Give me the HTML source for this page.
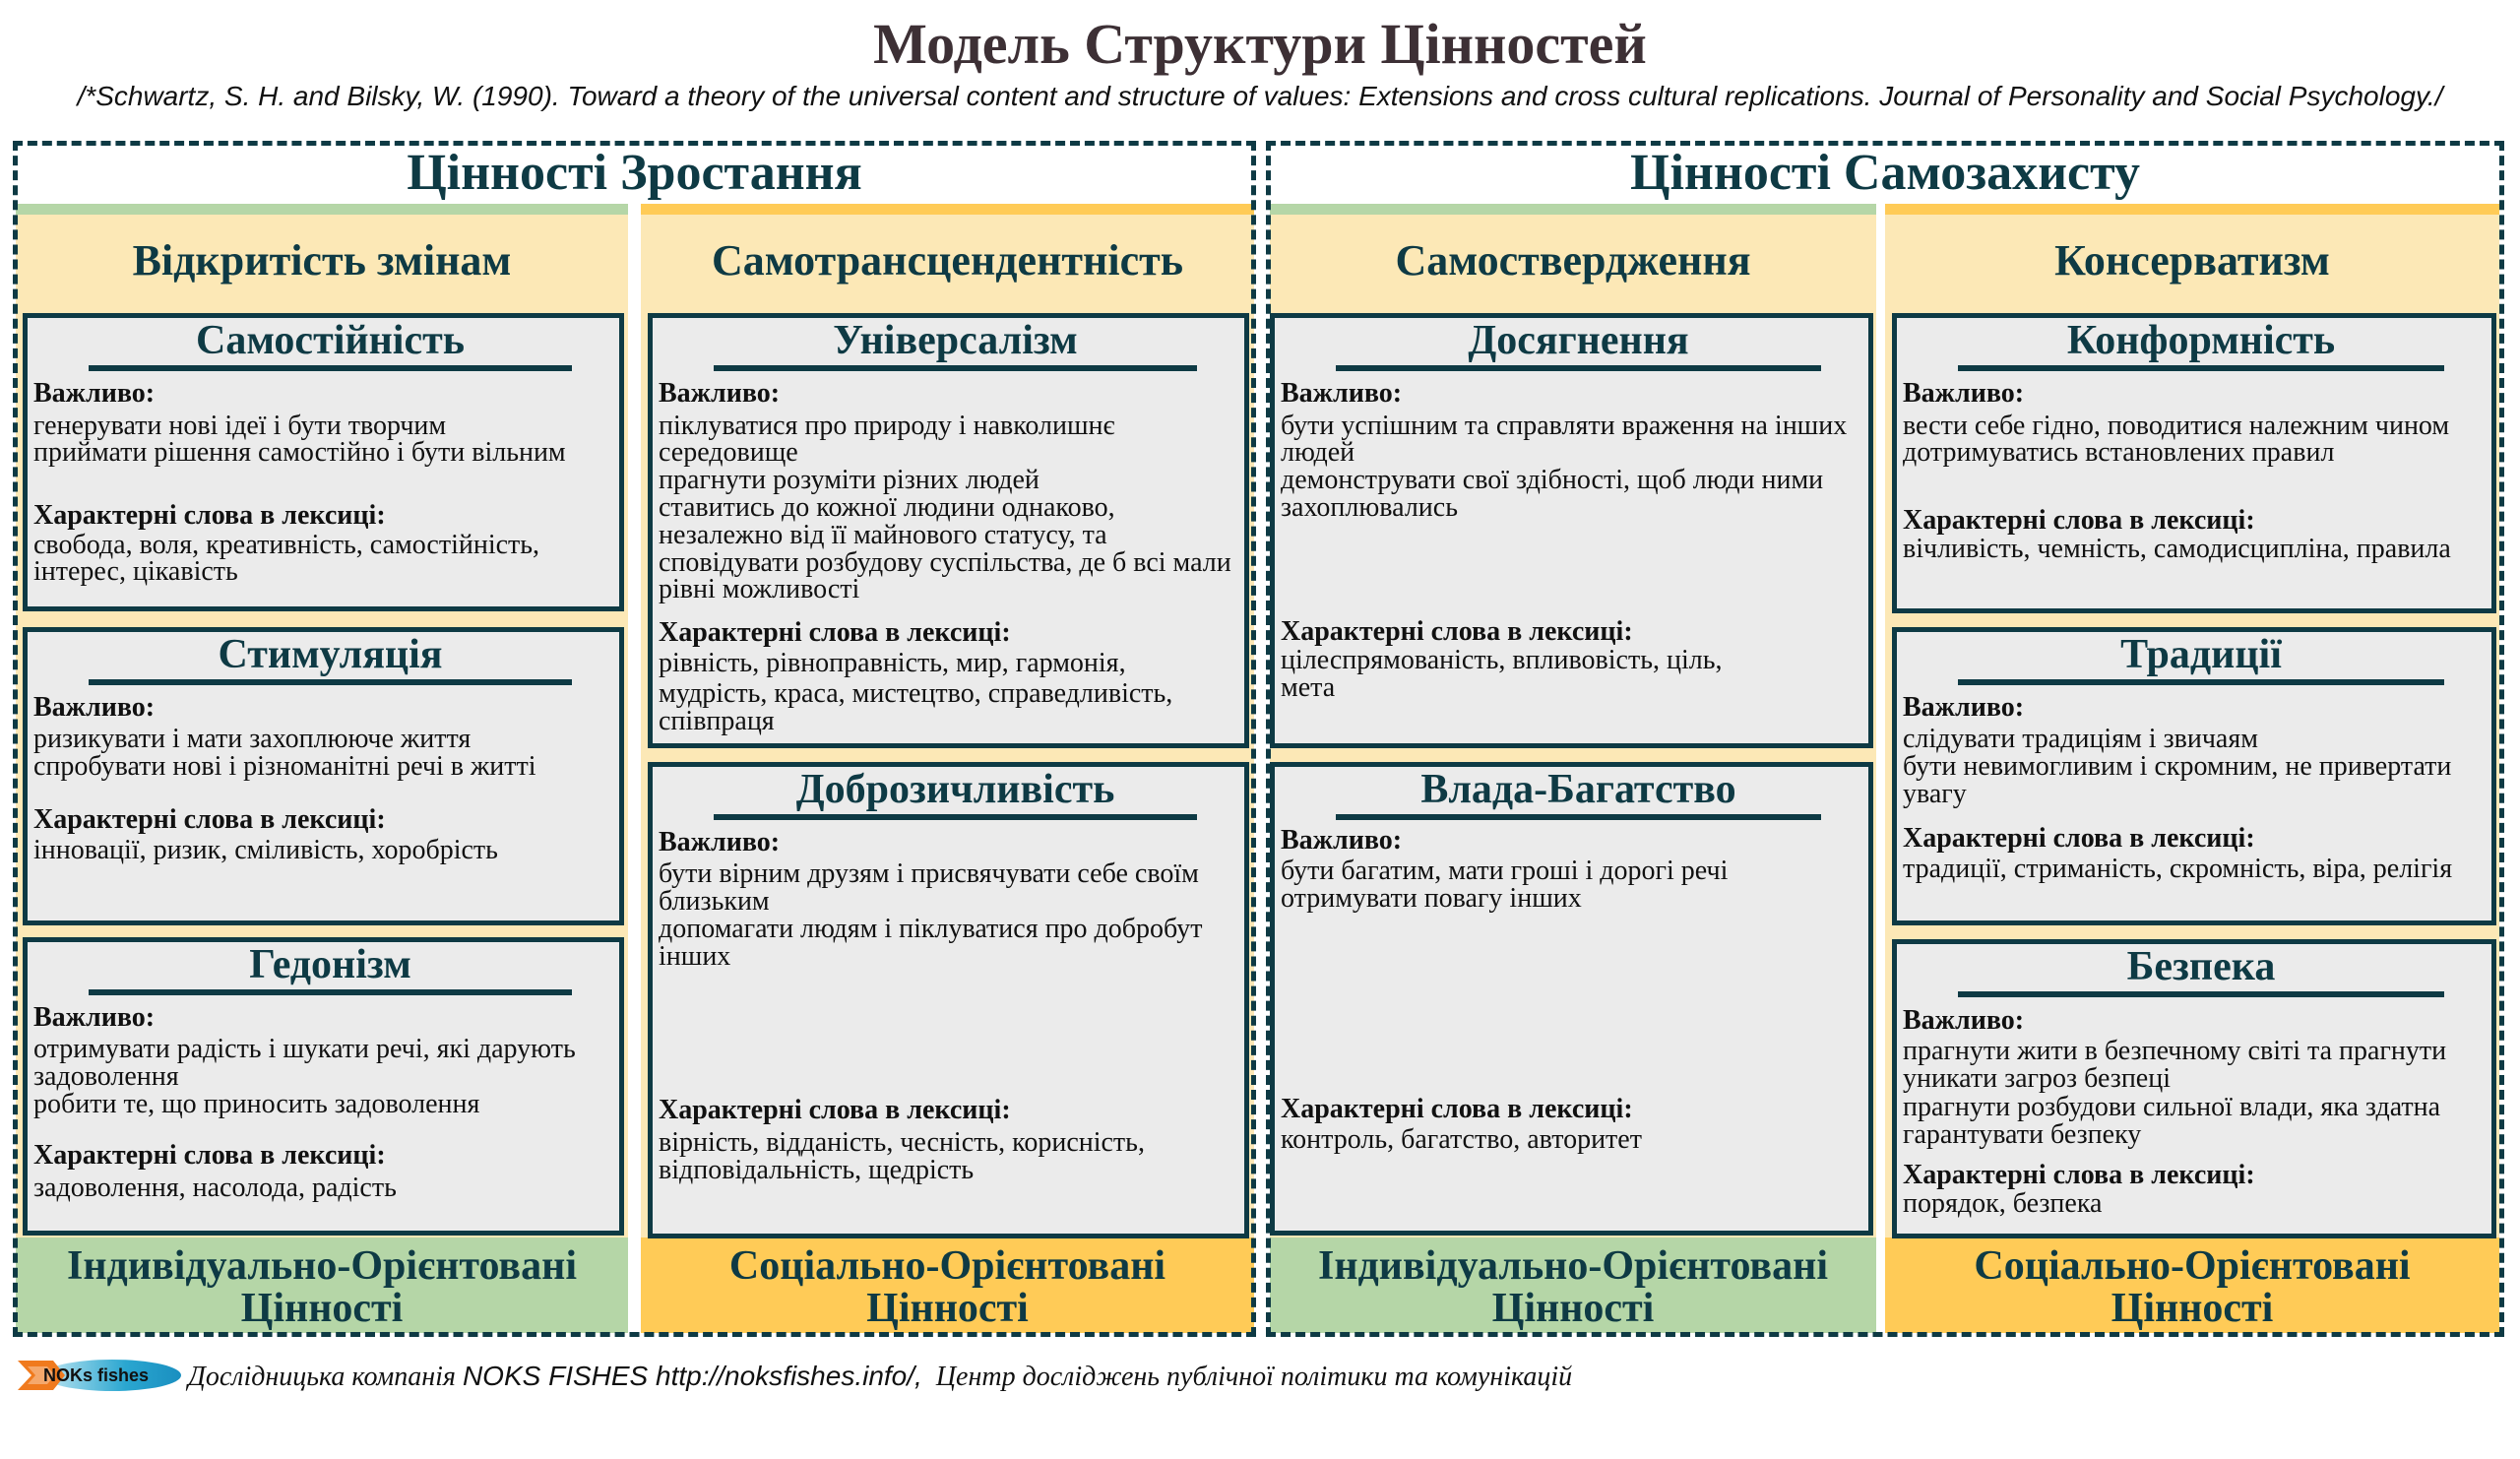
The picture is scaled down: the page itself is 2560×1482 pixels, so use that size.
<!DOCTYPE html>
<html><head><meta charset="utf-8"><style>
*{margin:0;padding:0;box-sizing:border-box}
body{width:2560px;height:1482px;background:#fff;position:relative;overflow:hidden;font-family:"Liberation Serif",serif;color:#111}
.a{position:absolute}
.dash{position:absolute;border:5px dashed #0e3a44}
.gt{position:absolute;text-align:center;font-weight:bold;font-size:52px;color:#0e3a44;line-height:60px}
.strip{position:absolute;height:11px}
.beige{position:absolute;background:#fce8b6}
.ch{position:absolute;text-align:center;font-weight:bold;font-size:44px;color:#0e3a44;line-height:50px}
.card{position:absolute;background:#ebebeb;border:5px solid #0e3a44}
.ct{position:absolute;left:62px;right:48px;top:0px;text-align:center;font-weight:bold;font-size:42px;color:#0e3a44;line-height:46px;border-bottom:6px solid #0e3a44;height:54px;white-space:nowrap}
.t{position:absolute;font-size:28px;line-height:28px;white-space:nowrap}
.b{font-weight:bold}
.foot{position:absolute;top:1257px;height:97px;text-align:center;font-weight:bold;font-size:42px;color:#0e3a44;line-height:43px;padding-top:8px;white-space:nowrap}
</style></head><body>
<div class="a" style="left:0;width:2560px;top:12px;text-align:center;font-size:58px;font-weight:bold;color:#3d3035;line-height:66px">Модель Структури Цінностей</div>
<div class="a" style="left:0;width:2560px;top:81px;text-align:center;font-family:'Liberation Sans',sans-serif;font-style:italic;font-size:28px;line-height:34px;white-space:nowrap">/*Schwartz, S. H. and Bilsky, W. (1990). Toward a theory of the universal content and structure of values: Extensions and cross cultural replications. Journal of Personality and Social Psychology./</div>

<div class="beige" style="left:16px;top:217px;width:622px;height:1040px"></div>
<div class="beige" style="left:651px;top:217px;width:623px;height:1040px"></div>
<div class="beige" style="left:1290px;top:217px;width:616px;height:1040px"></div>
<div class="beige" style="left:1915px;top:217px;width:624px;height:1040px"></div>
<div class="strip" style="left:16px;top:207px;width:622px;background:#b5d6a7"></div>
<div class="strip" style="left:651px;top:207px;width:623px;background:#ffcb57"></div>
<div class="strip" style="left:1290px;top:207px;width:616px;background:#b5d6a7"></div>
<div class="strip" style="left:1915px;top:207px;width:624px;background:#ffcb57"></div>

<div class="foot" style="left:16px;width:622px;background:#b5d6a7">Індивідуально-Орієнтовані<br>Цінності</div>
<div class="foot" style="left:651px;width:623px;background:#ffcb57">Соціально-Орієнтовані<br>Цінності</div>
<div class="foot" style="left:1290px;width:616px;background:#b5d6a7">Індивідуально-Орієнтовані<br>Цінності</div>
<div class="foot" style="left:1915px;width:624px;background:#ffcb57">Соціально-Орієнтовані<br>Цінності</div>

<div class="dash" style="left:13px;top:143px;width:1263px;height:1215px"></div>
<div class="dash" style="left:1286px;top:143px;width:1258px;height:1215px"></div>
<div class="gt" style="left:13px;width:1263px;top:146px">Цінності Зростання</div>
<div class="gt" style="left:1286px;width:1258px;top:146px">Цінності Самозахисту</div>

<div class="ch" style="left:16px;width:622px;top:240px">Відкритість змінам</div>
<div class="ch" style="left:651px;width:623px;top:240px">Самотрансцендентність</div>
<div class="ch" style="left:1290px;width:616px;top:240px">Самоствердження</div>
<div class="ch" style="left:1915px;width:624px;top:240px">Консерватизм</div>

<!-- cards -->
<div class="card" style="left:23px;top:318px;width:611px;height:303px"><div class="ct">Самостійність</div></div>
<div class="card" style="left:23px;top:637px;width:611px;height:303px"><div class="ct">Стимуляція</div></div>
<div class="card" style="left:23px;top:952px;width:611px;height:303px"><div class="ct">Гедонізм</div></div>
<div class="card" style="left:658px;top:318px;width:611px;height:442px"><div class="ct">Універсалізм</div></div>
<div class="card" style="left:658px;top:774px;width:611px;height:484px"><div class="ct">Доброзичливість</div></div>
<div class="card" style="left:1290px;top:318px;width:613px;height:442px"><div class="ct">Досягнення</div></div>
<div class="card" style="left:1290px;top:774px;width:613px;height:481px"><div class="ct">Влада-Багатство</div></div>
<div class="card" style="left:1922px;top:318px;width:614px;height:305px"><div class="ct">Конформність</div></div>
<div class="card" style="left:1922px;top:637px;width:614px;height:303px"><div class="ct">Традиції</div></div>
<div class="card" style="left:1922px;top:954px;width:614px;height:304px"><div class="ct">Безпека</div></div>

<!-- col1 text -->
<div class="t b" style="left:34px;top:386px">Важливо:</div>
<div class="t" style="left:34px;top:419px">генерувати нові ідеї і бути творчим</div>
<div class="t" style="left:34px;top:446px">приймати рішення самостійно і бути вільним</div>
<div class="t b" style="left:34px;top:510px">Характерні слова в лексиці:</div>
<div class="t" style="left:34px;top:540px">свобода, воля, креативність, самостійність,</div>
<div class="t" style="left:34px;top:567px">інтерес, цікавість</div>

<div class="t b" style="left:34px;top:705px">Важливо:</div>
<div class="t" style="left:34px;top:737px">ризикувати і мати захоплююче життя</div>
<div class="t" style="left:34px;top:765px">спробувати нові і різноманітні речі в житті</div>
<div class="t b" style="left:34px;top:819px">Характерні слова в лексиці:</div>
<div class="t" style="left:34px;top:850px">інновації, ризик, сміливість, хоробрість</div>

<div class="t b" style="left:34px;top:1020px">Важливо:</div>
<div class="t" style="left:34px;top:1052px">отримувати радість і шукати речі, які дарують</div>
<div class="t" style="left:34px;top:1080px">задоволення</div>
<div class="t" style="left:34px;top:1108px">робити те, що приносить задоволення</div>
<div class="t b" style="left:34px;top:1160px">Характерні слова в лексиці:</div>
<div class="t" style="left:34px;top:1193px">задоволення, насолода, радість</div>

<!-- col2 text -->
<div class="t b" style="left:669px;top:386px">Важливо:</div>
<div class="t" style="left:669px;top:419px">піклуватися про природу і навколишнє</div>
<div class="t" style="left:669px;top:446px">середовище</div>
<div class="t" style="left:669px;top:474px">прагнути розуміти різних людей</div>
<div class="t" style="left:669px;top:502px">ставитись до кожної людини однаково,</div>
<div class="t" style="left:669px;top:530px">незалежно від її майнового статусу, та</div>
<div class="t" style="left:669px;top:558px">сповідувати розбудову суспільства, де б всі мали</div>
<div class="t" style="left:669px;top:585px">рівні можливості</div>
<div class="t b" style="left:669px;top:629px">Характерні слова в лексиці:</div>
<div class="t" style="left:669px;top:660px">рівність, рівноправність, мир, гармонія,</div>
<div class="t" style="left:669px;top:691px">мудрість, краса, мистецтво, справедливість,</div>
<div class="t" style="left:669px;top:719px">співпраця</div>

<div class="t b" style="left:669px;top:842px">Важливо:</div>
<div class="t" style="left:669px;top:874px">бути вірним друзям і присвячувати себе своїм</div>
<div class="t" style="left:669px;top:902px">близьким</div>
<div class="t" style="left:669px;top:930px">допомагати людям і піклуватися про добробут</div>
<div class="t" style="left:669px;top:958px">інших</div>
<div class="t b" style="left:669px;top:1114px">Характерні слова в лексиці:</div>
<div class="t" style="left:669px;top:1147px">вірність, відданість, чесність, корисність,</div>
<div class="t" style="left:669px;top:1175px">відповідальність, щедрість</div>

<!-- col3 text -->
<div class="t b" style="left:1301px;top:386px">Важливо:</div>
<div class="t" style="left:1301px;top:419px">бути успішним та справляти враження на інших</div>
<div class="t" style="left:1301px;top:446px">людей</div>
<div class="t" style="left:1301px;top:474px">демонструвати свої здібності, щоб люди ними</div>
<div class="t" style="left:1301px;top:502px">захоплювались</div>
<div class="t b" style="left:1301px;top:628px">Характерні слова в лексиці:</div>
<div class="t" style="left:1301px;top:657px">цілеспрямованість, впливовість, ціль,</div>
<div class="t" style="left:1301px;top:685px">мета</div>

<div class="t b" style="left:1301px;top:840px">Важливо:</div>
<div class="t" style="left:1301px;top:871px">бути багатим, мати гроші і дорогі речі</div>
<div class="t" style="left:1301px;top:899px">отримувати повагу інших</div>
<div class="t b" style="left:1301px;top:1113px">Характерні слова в лексиці:</div>
<div class="t" style="left:1301px;top:1144px">контроль, багатство, авторитет</div>

<!-- col4 text -->
<div class="t b" style="left:1933px;top:386px">Важливо:</div>
<div class="t" style="left:1933px;top:419px">вести себе гідно, поводитися належним чином</div>
<div class="t" style="left:1933px;top:446px">дотримуватись встановлених правил</div>
<div class="t b" style="left:1933px;top:515px">Характерні слова в лексиці:</div>
<div class="t" style="left:1933px;top:544px">вічливість, чемність, самодисципліна, правила</div>

<div class="t b" style="left:1933px;top:705px">Важливо:</div>
<div class="t" style="left:1933px;top:737px">слідувати традиціям і звичаям</div>
<div class="t" style="left:1933px;top:765px">бути невимогливим і скромним, не привертати</div>
<div class="t" style="left:1933px;top:793px">увагу</div>
<div class="t b" style="left:1933px;top:838px">Характерні слова в лексиці:</div>
<div class="t" style="left:1933px;top:869px">традиції, стриманість, скромність, віра, релігія</div>

<div class="t b" style="left:1933px;top:1023px">Важливо:</div>
<div class="t" style="left:1933px;top:1054px">прагнути жити в безпечному світі та прагнути</div>
<div class="t" style="left:1933px;top:1082px">уникати загроз безпеці</div>
<div class="t" style="left:1933px;top:1111px">прагнути розбудови сильної влади, яка здатна</div>
<div class="t" style="left:1933px;top:1139px">гарантувати безпеку</div>
<div class="t b" style="left:1933px;top:1180px">Характерні слова в лексиці:</div>
<div class="t" style="left:1933px;top:1209px">порядок, безпека</div>

<!-- footer -->
<svg class="a" style="left:14px;top:1378px" width="172" height="38" viewBox="0 0 172 38">
<defs><linearGradient id="g" x1="0" x2="1"><stop offset="0" stop-color="#bfe6f2"/><stop offset="0.6" stop-color="#2aa6d0"/><stop offset="1" stop-color="#1a8fc0"/></linearGradient></defs>
<ellipse cx="100" cy="19" rx="70" ry="16" fill="url(#g)"/>
<path d="M4 4 L40 4 L52 19 L40 34 L4 34 L18 19 Z" fill="#f07a1e"/>
<path d="M14 10 L34 10 L42 19 L34 28 L14 28 L22 19 Z" fill="#fff" opacity="0.35"/>
<text x="30" y="25" font-family="Liberation Sans, sans-serif" font-weight="bold" font-size="18" fill="#111">NOKs fishes</text>
</svg>
<div class="a" style="left:191px;top:1381px;font-style:italic;font-size:28px;line-height:34px;white-space:nowrap">Дослідницька компанія <span style="font-family:'Liberation Sans',sans-serif">NOKS FISHES http://noksfishes.info/,</span>&nbsp; Центр досліджень публічної політики та комунікацій</div>
</body></html>
